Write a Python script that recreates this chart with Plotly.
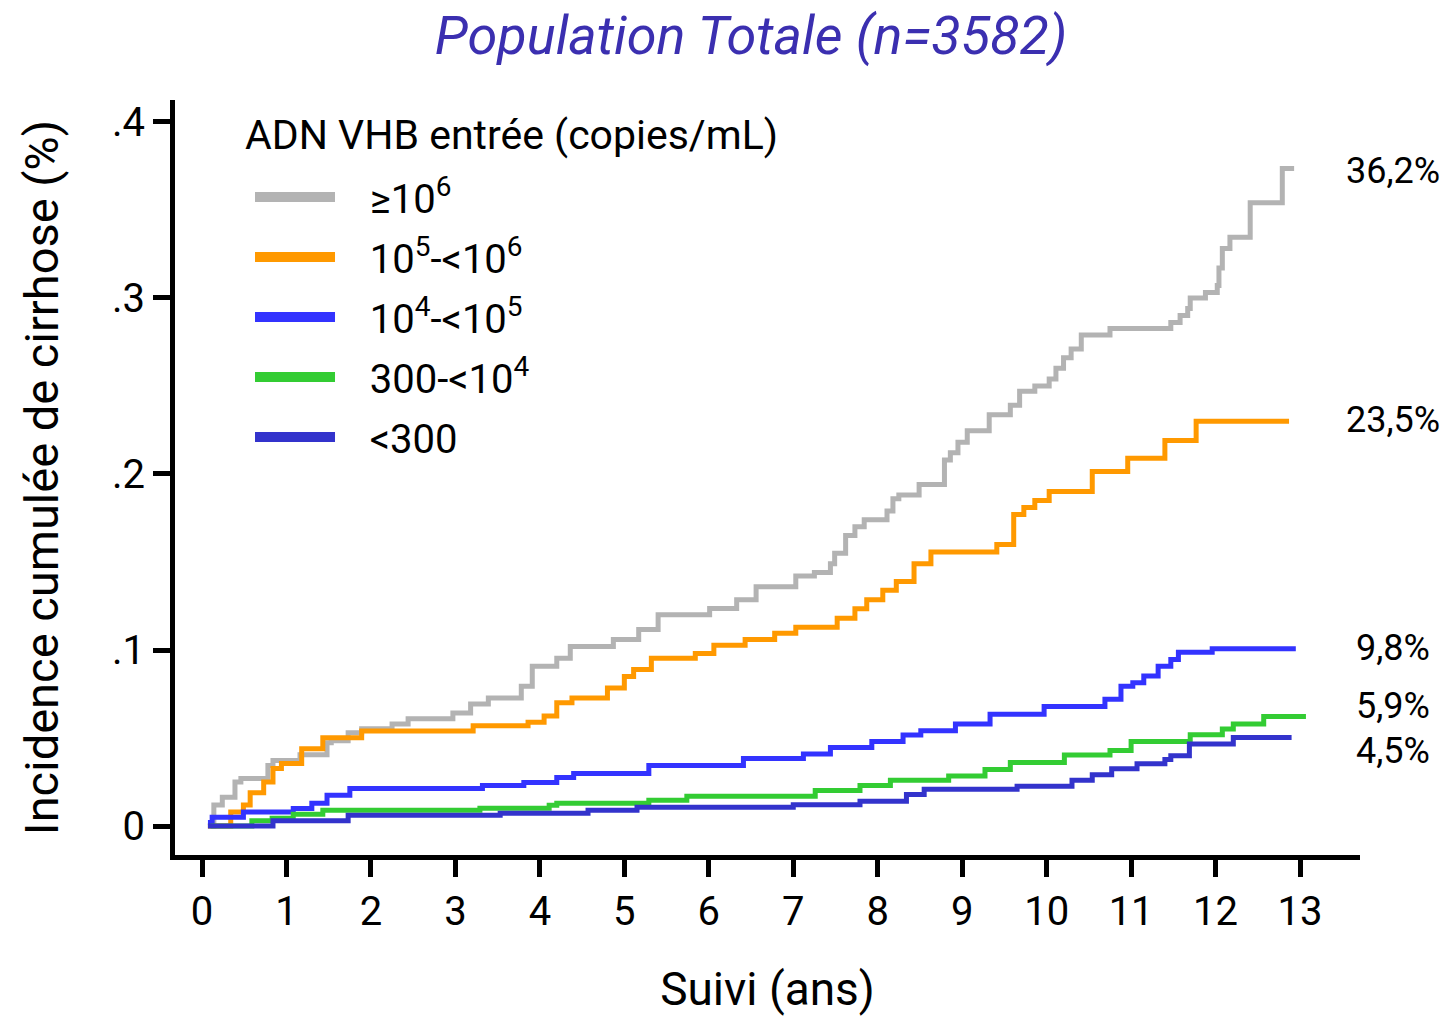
import plotly.graph_objects as go

# ---------------- data ----------------
series_names = ["≥10<sup>6</sup>", "10<sup>5</sup>-&lt;10<sup>6</sup>", "10<sup>4</sup>-&lt;10<sup>5</sup>",
                "300-&lt;10<sup>4</sup>", "&lt;300"]
series_colors = ["#b3b3b3", "#ff9900", "#3333ff", "#33cc33", "#3333cc"]
legend_title = "ADN VHB entrée (copies/mL)"

gray_t = [0.07, 0.14, 0.24, 0.39, 0.46, 0.78, 0.84, 1.16, 1.48, 1.53, 1.73, 1.89, 2.25, 2.44, 2.97,
          3.18, 3.39, 3.78, 3.91, 4.2, 4.36, 4.87, 5.17, 5.4, 6.01, 6.33, 6.56, 7.03, 7.25, 7.44,
          7.49, 7.62, 7.73, 7.84, 8.11, 8.18, 8.25, 8.49, 8.79, 8.86, 8.95, 9.06, 9.32, 9.57, 9.68,
          9.86, 10.03, 10.11, 10.2, 10.29, 10.41, 10.75, 11.47, 11.58, 11.67, 11.7, 11.88, 12.02, 12.04, 12.08,
          12.17, 12.41, 12.79, 12.93]
gray_v = [0.0, 0.012, 0.0164, 0.025, 0.027, 0.0344, 0.0372, 0.0406, 0.0474, 0.0485, 0.053, 0.0553, 0.058, 0.061, 0.0643,
          0.0694, 0.0728, 0.0795, 0.0908, 0.0953, 0.102, 0.106, 0.1117, 0.12, 0.1236, 0.1286, 0.136, 0.142, 0.144, 0.149,
          0.155, 0.165, 0.17, 0.174, 0.179, 0.186, 0.188, 0.194, 0.208, 0.212, 0.218, 0.2245, 0.2336, 0.239, 0.247,
          0.25, 0.254, 0.26, 0.266, 0.271, 0.279, 0.2826, 0.286, 0.29, 0.294, 0.3, 0.303, 0.307, 0.317, 0.328,
          0.3345, 0.354, 0.3735, 0.3735]

orange_t = [0.07, 0.34, 0.49, 0.57, 0.73, 0.84, 0.94, 1.18, 1.43, 1.89, 3.21, 3.86, 4.05, 4.2, 4.38,
            4.8, 5.0, 5.11, 5.32, 5.84, 6.06, 6.43, 6.78, 7.03, 7.52, 7.73, 7.87, 8.06, 8.22, 8.43,
            8.63, 9.41, 9.61, 9.73, 9.86, 10.03, 10.54, 10.96, 11.4, 11.77, 12.87]
orange_v = [0.0, 0.008, 0.012, 0.019, 0.025, 0.0327, 0.0355, 0.044, 0.0502, 0.054, 0.057, 0.059, 0.0626, 0.07, 0.0728,
            0.0784, 0.085, 0.089, 0.0953, 0.098, 0.1027, 0.106, 0.1096, 0.113, 0.118, 0.1235, 0.1285, 0.134, 0.139, 0.149,
            0.1557, 0.16, 0.177, 0.181, 0.185, 0.19, 0.2014, 0.209, 0.219, 0.230, 0.230]

blue_t = [0.07, 0.12, 0.49, 1.08, 1.3, 1.48, 1.75, 3.32, 3.81, 4.2, 4.4, 5.29, 6.41, 7.12, 7.44,
          7.93, 8.3, 8.51, 8.92, 9.33, 9.97, 10.69, 10.88, 11.02, 11.15, 11.32, 11.47, 11.56, 11.96, 12.95]
blue_v = [0.002, 0.005, 0.008, 0.01, 0.013, 0.0175, 0.0214, 0.0231, 0.0248, 0.0276, 0.0299, 0.0344, 0.0384, 0.041, 0.0447,
          0.048, 0.0517, 0.0542, 0.058, 0.0636, 0.0679, 0.072, 0.0795, 0.0814, 0.0852, 0.0908, 0.0946, 0.0987, 0.1007, 0.1007]

green_t = [0.1, 0.59, 0.83, 1.08, 1.43, 3.29, 4.11, 4.2, 5.29, 5.74, 7.26, 7.79, 8.15, 8.84, 9.27,
           9.57, 10.21, 10.75, 11.0, 11.7, 12.08, 12.21, 12.57, 13.07]
green_v = [0.0, 0.003, 0.0045, 0.0068, 0.009, 0.0102, 0.0118, 0.013, 0.0147, 0.0169, 0.0203, 0.0231, 0.026, 0.0284, 0.0322,
           0.0362, 0.0404, 0.0429, 0.048, 0.0519, 0.0551, 0.058, 0.0622, 0.0622]

dark_t = [0.07, 0.84, 1.73, 3.53, 4.57, 5.15, 7.0, 7.79, 8.34, 8.55, 9.65, 10.3, 10.54, 10.77, 11.07,
          11.4, 11.47, 11.69, 12.21, 12.9]
dark_v = [0.0, 0.003, 0.0062, 0.0073, 0.009, 0.0107, 0.0122, 0.0141, 0.0179, 0.0209, 0.0227, 0.026, 0.0292, 0.0326, 0.0354,
          0.0378, 0.04, 0.0467, 0.0504, 0.0504]

end_labels = ["36,2%", "23,5%", "9,8%", "5,9%", "4,5%"]
end_label_y = [0.3718, 0.2307, 0.101, 0.0683, 0.0429]

x_ticks = list(range(0, 14))
y_ticks = [0, 0.1, 0.2, 0.3, 0.4]
y_ticktext = ["0", ".1", ".2", ".3", ".4"]

FONT = "Roboto"
GAP = "&nbsp;" * 3

fig = go.Figure()
all_series = [(gray_t, gray_v), (orange_t, orange_v), (blue_t, blue_v), (green_t, green_v), (dark_t, dark_v)]
for (t, v), c in zip(all_series, series_colors):
    fig.add_trace(go.Scatter(x=t, y=v, mode="lines", line=dict(color=c, width=5, shape="hv"),
                             showlegend=False, hoverinfo="skip"))
# legend entries (thick swatches)
for i, (name, c) in enumerate(zip(series_names, series_colors)):
    fig.add_trace(go.Scatter(x=[None], y=[None], mode="lines", name=GAP + name, legendgroup=str(i),
                             line=dict(color=c, width=10)))

for txt, yv in zip(end_labels, end_label_y):
    fig.add_annotation(x=1.028, xref="paper", y=yv, yref="y", text=txt, showarrow=False,
                       xanchor="center", yanchor="middle", font=dict(family=FONT, size=36, color="black"))

fig.add_annotation(x=0.0574, xref="paper", y=0.954, yref="paper", text=legend_title, showarrow=False,
                   xanchor="left", yanchor="middle", font=dict(family=FONT, size=41, color="black"))

fig.update_layout(
    width=1451, height=1019,
    margin=dict(l=175, r=91, t=100, b=159),
    paper_bgcolor="white", plot_bgcolor="white",
    title=dict(text="Population Totale (n=3582)", xref="container", yref="container",
               x=751 / 1451, y=1 - 35 / 1019, xanchor="center", yanchor="middle",
               font=dict(family=FONT, size=54, color="#3b2fb0", style="italic")),
    font=dict(family=FONT, color="black"),
    legend=dict(x=0.0633, y=0.9145, xanchor="left", yanchor="top",
                font=dict(family=FONT, size=40, color="black"),
                bgcolor="rgba(0,0,0,0)", itemwidth=80, tracegroupgap=5),
    xaxis=dict(range=[-0.32, 13.71], tickvals=x_ticks, ticks="outside", ticklen=17, tickwidth=5,
               tickcolor="black", showline=True, linewidth=5, linecolor="black",
               showgrid=False, zeroline=False, tickfont=dict(family=FONT, size=40),
               title=dict(text="Suivi (ans)", font=dict(family=FONT, size=46), standoff=40)),
    yaxis=dict(range=[-0.0164, 0.4124], tickvals=y_ticks, ticktext=y_ticktext, ticks="outside",
               ticklen=17, tickwidth=5, tickcolor="black", showline=True, linewidth=5, linecolor="black",
               showgrid=False, zeroline=False, tickfont=dict(family=FONT, size=40),
               title=dict(text="Incidence cumulée de cirrhose (%)", font=dict(family=FONT, size=47), standoff=40)),
)

fig.write_html("out.html")
